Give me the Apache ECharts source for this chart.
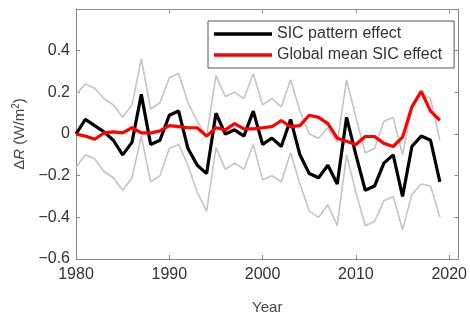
<!DOCTYPE html>
<html>
<head>
<meta charset="utf-8">
<script src="https://cdn.jsdelivr.net/npm/echarts@6/dist/echarts.min.js"></script>
<style>
  html, body { margin: 0; padding: 0; background: #fff; }
  #chart-container { width: 470px; height: 320px; }
</style>
</head>
<body>
<div id="chart-container"></div>
<script>
// years 1980..2019
var years = [];
for (var y = 1980; y <= 2019; y++) years.push(y);

// SIC pattern effect (black)
var patternEffect = [
  0.00, 0.07, 0.04, 0.01, -0.03, -0.10, -0.04, 0.19, -0.05, -0.03,
  0.09, 0.11, -0.07, -0.15, -0.19, 0.10, 0.00, 0.02, -0.01, 0.11,
  -0.05, -0.02, -0.06, 0.07, -0.10, -0.19, -0.21, -0.15, -0.24, 0.08,
  -0.10, -0.27, -0.25, -0.14, -0.10, -0.30, -0.06, -0.01, -0.03, -0.23
];
// Global mean SIC effect (red)
var globalMeanEffect = [
  0.00, -0.01, -0.025, 0.005, 0.01, 0.005, 0.03, 0.005, 0.005, 0.015,
  0.04, 0.035, 0.03, 0.03, -0.01, 0.03, 0.02, 0.05, 0.025, 0.025,
  0.03, 0.035, 0.065, 0.035, 0.04, 0.09, 0.08, 0.05, -0.02, -0.035,
  -0.05, -0.012, -0.012, -0.045, -0.06, -0.015, 0.13, 0.205, 0.11, 0.066
];
// spread around the pattern effect (grey)
var upperBound = [
  0.19, 0.24, 0.22, 0.17, 0.14, 0.08, 0.14, 0.36, 0.12, 0.15,
  0.27, 0.29, 0.15, 0.06, -0.01, 0.28, 0.18, 0.20, 0.17, 0.29,
  0.14, 0.17, 0.13, 0.26, 0.11, 0.00, -0.02, 0.03, -0.04, 0.26,
  0.08, -0.09, -0.07, 0.06, 0.08, -0.10, 0.13, 0.19, 0.17, -0.03
];
var lowerBound = [
  -0.16, -0.10, -0.12, -0.18, -0.21, -0.27, -0.21, -0.01, -0.23, -0.20,
  -0.07, -0.05, -0.15, -0.28, -0.37, -0.065, -0.17, -0.14, -0.17, -0.05,
  -0.22, -0.20, -0.23, -0.09, -0.24, -0.37, -0.40, -0.34, -0.44, -0.10,
  -0.28, -0.44, -0.42, -0.32, -0.30, -0.46, -0.29, -0.24, -0.25, -0.40
];

function pairs(vals) {
  return years.map(function (yr, i) { return [yr, vals[i]]; });
}

var axisColor = '#8a8a8a';
var labelColor = '#333';
var font = 'Liberation Sans, Arial, sans-serif';

function yLabel(v) {
  var r = Math.round(v * 10) / 10;
  if (r >= 0.6) return '';
  if (r === 0) return '0';
  return (r < 0 ? '\u2212' : '') + Math.abs(r).toFixed(1);
}

var myChart = echarts.init(document.getElementById('chart-container'));

var option = {
  backgroundColor: '#fff',
  animation: false,
  grid: { left: 76, right: 8, top: 9, bottom: 53 },
  legend: {
    left: 208, top: 21,
    orient: 'vertical',
    backgroundColor: '#fff',
    borderColor: '#555',
    borderWidth: 1,
    borderRadius: 0,
    padding: [5, 12, 5, 6],
    itemGap: 5,
    itemWidth: 58,
    itemHeight: 3.5,
    icon: 'rect',
    data: ['SIC pattern effect', 'Global mean SIC effect'],
    textStyle: { fontFamily: font, fontSize: 16, color: '#333' }
  },
  xAxis: [{
    type: 'value', min: 1980, max: 2021, interval: 10,
    name: 'Year', nameLocation: 'middle', nameGap: 41,
    nameTextStyle: { fontFamily: font, fontSize: 15, color: '#444' },
    axisLine: { onZero: false, lineStyle: { color: axisColor } },
    axisTick: { inside: true, length: 4, lineStyle: { color: axisColor } },
    axisLabel: {
      fontFamily: font, fontSize: 16, color: labelColor, margin: 8,
      formatter: function (v) { return v % 10 === 0 ? String(v) : ''; }
    },
    splitLine: { show: false }
  }, {
    type: 'value', min: 1980, max: 2021, interval: 10, position: 'top',
    axisLine: { show: true, onZero: false, lineStyle: { color: axisColor } },
    axisTick: { inside: true, length: 4, lineStyle: { color: axisColor } },
    axisLabel: { show: false },
    splitLine: { show: false }
  }],
  yAxis: [{
    type: 'value', min: -0.6, max: 0.6, interval: 0.2,
    name: '{a|\u0394}{i|R}{a| (W/m}{s|2}{a|)}',
    nameLocation: 'middle', nameGap: 35, nameRotate: 90,
    nameTextStyle: {
      rich: {
        a: { fontFamily: font, fontSize: 15, color: '#444' },
        i: { fontFamily: font, fontSize: 15, color: '#444', fontStyle: 'italic' },
        s: { fontFamily: font, fontSize: 10, color: '#444', padding: [0, 0, 8, 0] }
      }
    },
    axisLine: { show: true, onZero: false, lineStyle: { color: axisColor } },
    axisTick: { inside: true, length: 4, lineStyle: { color: axisColor } },
    axisLabel: { fontFamily: font, fontSize: 16, color: labelColor, margin: 6, formatter: yLabel },
    splitLine: { show: false }
  }, {
    type: 'value', min: -0.6, max: 0.6, interval: 0.2, position: 'right',
    axisLine: { show: true, onZero: false, lineStyle: { color: axisColor } },
    axisTick: { inside: true, length: 4, lineStyle: { color: axisColor } },
    axisLabel: { show: false },
    splitLine: { show: false }
  }],
  series: [
    {
      name: 'upper', type: 'line', symbol: 'none', z: 1,
      data: pairs(upperBound),
      lineStyle: { color: '#c4c4c4', width: 1.6 }
    },
    {
      name: 'lower', type: 'line', symbol: 'none', z: 1,
      data: pairs(lowerBound),
      lineStyle: { color: '#c4c4c4', width: 1.6 }
    },
    {
      name: 'SIC pattern effect', type: 'line', symbol: 'none', z: 3,
      data: pairs(patternEffect),
      itemStyle: { color: '#000' },
      lineStyle: { color: '#000', width: 3.2 }
    },
    {
      name: 'Global mean SIC effect', type: 'line', symbol: 'none', z: 4,
      data: pairs(globalMeanEffect),
      itemStyle: { color: '#f00' },
      lineStyle: { color: '#f00', width: 3.2 }
    }
  ]
};
myChart.setOption(option);
</script>
</body>
</html>
